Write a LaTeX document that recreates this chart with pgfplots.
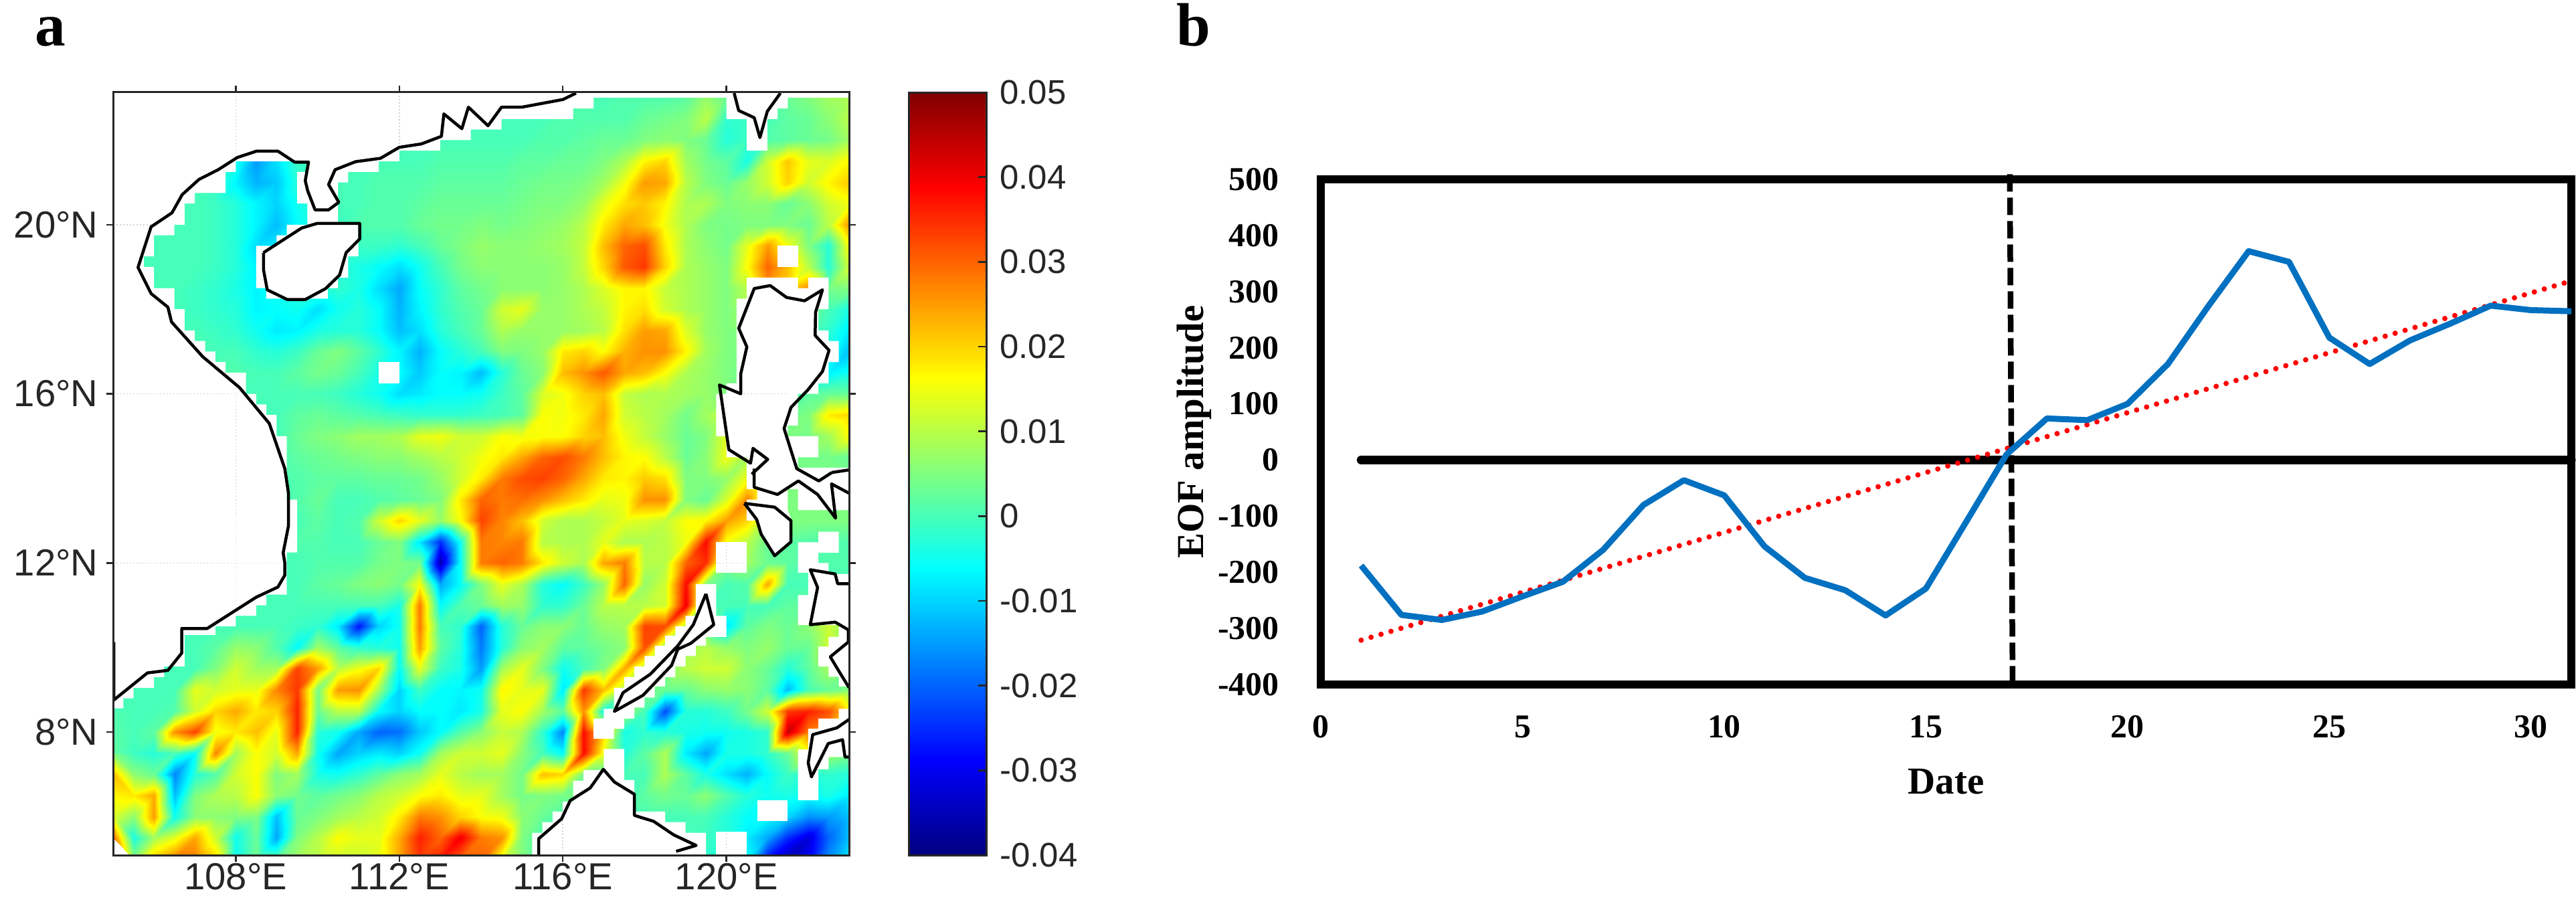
\documentclass[border=0pt]{standalone}
\usepackage{fontspec}
\usepackage{pgfplots}
\pgfplotsset{compat=1.18}
\setmainfont{Liberation Sans}
\newfontfamily\timesfont{Liberation Serif}
\definecolor{axgray}{RGB}{38,38,38}
\definecolor{lineblue}{RGB}{0,112,192}
% 1 px of the reference = 0.1 mm here
\newcommand{\mapfont}{\fontsize{16}{17}\selectfont}
\newcommand{\barfont}{\fontsize{14.5}{16}\selectfont}
\newcommand{\ticktimes}{\timesfont\bfseries\fontsize{14.2}{15}\selectfont}
\newcommand{\labeltimes}{\timesfont\bfseries\fontsize{16.2}{18}\selectfont}
\begin{document}
\begin{tikzpicture}[x=1mm,y=1mm]
\path[use as bounding box] (0,0) rectangle (385,135.6);
\node[anchor=base west,inner sep=0pt,font=\timesfont\bfseries\fontsize{26}{28}\selectfont] at (5.2,128.7) {a};
\node[anchor=base west,inner sep=0pt,font=\timesfont\bfseries\fontsize{26}{28}\selectfont] at (175.8,128.7) {b};

% panel a: field in units of 0.001, rows north to south (23N..5N), each row 105E..123E, step 0.5 deg
\begin{axis}[
  at={(16.9mm,7.8mm)}, anchor=south west, scale only axis,
  width=110mm, height=114mm,
  xmin=105, xmax=123, ymin=5.09, ymax=23.13,
  xtick={108,112,116,120}, xticklabels={108°E,112°E,116°E,120°E},
  ytick={8,12,16,20}, yticklabels={8°N,12°N,16°N,20°N},
  tick align=outside, xtick pos=both, ytick pos=both,
  xticklabel pos=bottom, yticklabel pos=left,
  major tick length=1mm,
  tick style={axgray,line width=0.25mm},
  axis line style={axgray,line width=0.3mm},
  ticklabel style={font=\mapfont,text=axgray},
  xticklabel style={yshift=1mm},
  axis on top,
  colormap/jet, point meta min=-40, point meta max=50,
]
\addplot[surf, shader=interp, mesh/cols=37, point meta=explicit]
  table[row sep=\\, header=false,
        x expr={105+0.5*mod(\coordindex,37)},
        y expr={23-0.5*floor(\coordindex/37)},
        meta index=0] {
0\\0\\0\\0\\0\\0\\0\\0\\0\\0\\0\\0\\0\\0\\0\\0\\0\\0\\0\\0\\0\\0\\1\\1\\0\\1\\1\\1\\2\\7\\3\\3\\3\\3\\5\\8\\9\\
0\\0\\0\\0\\0\\0\\0\\0\\0\\0\\0\\0\\0\\0\\0\\0\\0\\0\\0\\0\\0\\0\\1\\1\\1\\1\\3\\4\\5\\10\\-2\\-1\\0\\2\\3\\6\\10\\
0\\0\\0\\0\\0\\0\\0\\0\\0\\0\\0\\0\\0\\0\\0\\0\\0\\0\\0\\0\\0\\1\\1\\2\\3\\3\\5\\6\\5\\3\\-3\\-1\\1\\2\\3\\4\\8\\
0\\0\\0\\0\\0\\0\\-4\\-15\\-9\\-1\\0\\0\\0\\0\\0\\0\\1\\1\\1\\1\\2\\2\\3\\3\\5\\9\\17\\20\\8\\4\\2\\-4\\12\\21\\14\\13\\17\\
0\\0\\0\\0\\0\\-1\\-7\\-13\\-11\\-3\\-1\\0\\0\\1\\1\\1\\2\\2\\2\\2\\3\\4\\4\\5\\8\\15\\25\\24\\10\\5\\3\\7\\12\\20\\12\\17\\21\\
0\\0\\0\\0\\0\\-1\\-3\\-7\\-10\\-5\\-2\\0\\0\\1\\1\\2\\3\\3\\3\\3\\4\\5\\5\\7\\14\\19\\21\\17\\9\\9\\5\\6\\6\\3\\6\\12\\15\\
0\\0\\0\\0\\0\\-1\\-3\\-7\\-12\\-6\\-3\\-1\\1\\1\\1\\3\\4\\4\\5\\4\\5\\6\\7\\10\\18\\24\\22\\15\\9\\5\\4\\5\\5\\5\\3\\10\\26\\
0\\0\\0\\0\\0\\-1\\-3\\-9\\-8\\-4\\-3\\-2\\-1\\-1\\-2\\0\\3\\5\\7\\6\\6\\7\\8\\11\\22\\30\\32\\18\\9\\6\\4\\14\\25\\15\\5\\-3\\16\\
0\\0\\0\\0\\0\\-1\\-3\\-7\\-5\\-3\\-3\\-3\\-4\\-6\\-9\\-5\\0\\4\\6\\6\\6\\6\\7\\11\\20\\31\\34\\20\\9\\7\\5\\16\\30\\22\\10\\-3\\12\\
0\\0\\0\\0\\-1\\-2\\-4\\-7\\-5\\-3\\-2\\-2\\-4\\-9\\-14\\-6\\-2\\2\\4\\6\\6\\6\\7\\9\\13\\17\\17\\11\\9\\7\\5\\10\\25\\20\\27\\4\\5\\
0\\0\\0\\0\\-1\\-2\\-3\\-7\\-6\\-5\\-9\\-5\\-3\\-6\\-13\\-7\\-2\\1\\3\\12\\14\\7\\7\\9\\11\\17\\19\\12\\9\\7\\5\\8\\8\\8\\5\\0\\-4\\
0\\0\\0\\0\\0\\-1\\-2\\-5\\-8\\-7\\-4\\-3\\-3\\-6\\-12\\-9\\-3\\0\\3\\9\\7\\7\\7\\8\\10\\19\\25\\24\\13\\7\\5\\5\\4\\3\\2\\-2\\-8\\
0\\0\\0\\0\\1\\0\\0\\-2\\-3\\-1\\3\\5\\2\\-2\\-7\\-13\\-6\\-3\\0\\5\\5\\7\\18\\20\\16\\23\\26\\26\\17\\8\\5\\4\\3\\1\\0\\-4\\-12\\
0\\0\\0\\0\\0\\1\\1\\0\\0\\2\\4\\3\\0\\-4\\-6\\-11\\-6\\-7\\-12\\-3\\3\\6\\22\\26\\31\\24\\22\\16\\9\\7\\5\\3\\2\\0\\-3\\-7\\-5\\
0\\0\\0\\0\\0\\0\\0\\0\\0\\0\\0\\-1\\-3\\-5\\-9\\-8\\-6\\-6\\-5\\-1\\2\\13\\15\\20\\22\\11\\9\\9\\8\\7\\5\\3\\2\\0\\2\\3\\3\\
0\\0\\0\\0\\0\\0\\0\\0\\0\\2\\3\\2\\1\\0\\-1\\-2\\-2\\-2\\-1\\0\\2\\16\\15\\18\\24\\12\\10\\8\\4\\8\\12\\8\\5\\3\\5\\18\\20\\
0\\0\\0\\0\\0\\0\\0\\0\\0\\3\\5\\6\\8\\8\\9\\14\\15\\12\\12\\16\\15\\16\\16\\20\\22\\15\\11\\7\\3\\5\\14\\10\\8\\5\\4\\8\\16\\
0\\0\\0\\0\\0\\0\\0\\0\\0\\2\\3\\4\\5\\6\\6\\8\\10\\12\\15\\18\\24\\30\\32\\28\\22\\17\\16\\10\\3\\6\\15\\8\\5\\4\\4\\4\\3\\
0\\0\\0\\0\\0\\0\\0\\0\\0\\1\\2\\2\\2\\3\\3\\4\\7\\12\\18\\28\\32\\33\\30\\24\\18\\17\\21\\19\\5\\5\\7\\15\\8\\5\\5\\5\\5\\
0\\0\\0\\0\\0\\0\\0\\0\\0\\1\\3\\0\\0\\1\\2\\3\\5\\18\\30\\28\\29\\26\\22\\18\\14\\15\\26\\26\\5\\3\\13\\27\\10\\5\\5\\5\\5\\
0\\0\\0\\0\\0\\0\\0\\0\\0\\0\\2\\0\\1\\12\\20\\14\\7\\16\\33\\27\\22\\12\\9\\9\\11\\14\\13\\11\\16\\17\\25\\20\\8\\5\\5\\5\\5\\
0\\0\\0\\0\\0\\0\\0\\0\\0\\1\\1\\0\\0\\3\\5\\-8\\-25\\-5\\28\\27\\28\\10\\9\\9\\14\\9\\9\\10\\15\\38\\15\\10\\3\\2\\1\\1\\1\\
0\\0\\0\\0\\0\\0\\0\\0\\0\\0\\1\\1\\1\\4\\5\\4\\-36\\-6\\28\\30\\28\\18\\12\\9\\24\\28\\10\\10\\30\\35\\5\\8\\3\\2\\1\\1\\1\\
0\\0\\0\\0\\0\\0\\0\\0\\0\\0\\2\\3\\5\\6\\4\\16\\-14\\-6\\5\\14\\9\\-3\\-6\\-1\\7\\30\\7\\12\\38\\5\\0\\1\\24\\0\\0\\0\\0\\
0\\0\\0\\0\\0\\0\\0\\0\\0\\0\\0\\0\\0\\0\\-4\\28\\-6\\1\\3\\8\\7\\-2\\-2\\3\\10\\10\\10\\12\\40\\0\\0\\0\\0\\2\\3\\3\\3\\
0\\0\\0\\0\\0\\0\\0\\0\\0\\-1\\-2\\-8\\-27\\-10\\-5\\28\\0\\-2\\-20\\-3\\3\\6\\6\\3\\7\\8\\33\\32\\8\\3\\-8\\2\\5\\3\\6\\12\\5\\
0\\0\\0\\0\\0\\2\\7\\6\\1\\-6\\8\\2\\-2\\-3\\-5\\25\\2\\-3\\-18\\-3\\6\\8\\2\\2\\4\\6\\32\\5\\8\\10\\7\\5\\7\\3\\3\\12\\5\\
0\\0\\0\\0\\0\\5\\12\\8\\8\\33\\25\\10\\15\\20\\-6\\14\\-1\\-4\\-15\\8\\14\\5\\-5\\0\\5\\24\\8\\5\\10\\12\\12\\6\\3\\-3\\2\\8\\5\\
0\\0\\0\\0\\14\\12\\14\\14\\27\\34\\4\\25\\26\\8\\-10\\-1\\-6\\-7\\-5\\17\\14\\14\\-8\\34\\22\\8\\5\\3\\3\\6\\7\\6\\2\\-12\\0\\3\\5\\
0\\0\\0\\1\\12\\20\\24\\18\\20\\36\\3\\10\\10\\-6\\-10\\-6\\-6\\-8\\-4\\14\\16\\8\\2\\26\\-5\\8\\0\\-22\\-3\\-3\\-1\\4\\12\\34\\36\\32\\18\\
1\\0\\2\\26\\33\\15\\18\\22\\14\\36\\-3\\-5\\-14\\-20\\-19\\-11\\-6\\1\\6\\11\\9\\-2\\-17\\38\\20\\-4\\-2\\-3\\-4\\-5\\-5\\-4\\-2\\44\\28\\25\\18\\
2\\-1\\-3\\0\\-6\\27\\8\\16\\12\\24\\-5\\-14\\-10\\-8\\-10\\-5\\8\\12\\12\\14\\6\\0\\-6\\38\\15\\-3\\2\\9\\-8\\-14\\-4\\-4\\-2\\3\\15\\8\\5\\
5\\6\\3\\-17\\-3\\1\\12\\16\\5\\8\\-4\\-5\\-2\\2\\6\\8\\14\\10\\8\\8\\4\\22\\20\\4\\0\\0\\0\\9\\2\\-4\\-9\\-13\\-6\\-1\\-3\\-2\\-3\\
22\\18\\24\\-12\\5\\9\\10\\16\\6\\4\\2\\4\\6\\10\\12\\16\\18\\14\\14\\8\\4\\5\\4\\5\\0\\0\\2\\4\\3\\6\\1\\-3\\-5\\-4\\-6\\-4\\-8\\
12\\6\\25\\-5\\6\\6\\5\\5\\-12\\3\\5\\8\\10\\12\\18\\28\\26\\20\\16\\15\\6\\3\\0\\0\\0\\0\\0\\0\\0\\0\\-3\\-6\\-6\\-10\\-16\\-15\\-12\\
14\\-4\\8\\14\\24\\12\\-5\\3\\-14\\5\\10\\16\\14\\14\\24\\36\\30\\40\\28\\26\\5\\0\\0\\0\\0\\0\\0\\0\\0\\-1\\-3\\-8\\-14\\-25\\-32\\-20\\-12\\
30\\6\\22\\28\\28\\20\\-5\\4\\2\\8\\10\\12\\12\\14\\24\\34\\36\\30\\30\\14\\5\\0\\0\\0\\0\\0\\0\\0\\0\\-2\\-3\\-6\\-28\\-36\\-30\\-16\\-8\\
};
% land and missing cells
\addplot[fill=white,draw=none] coordinates {(105,8.56)(105.25,8.56)(105.25,8.8)(105.5,8.8)(105.5,9.05)(106,9.05)(106,9.3)(106.25,9.3)(106.25,9.55)(106.75,9.55)(106.75,10.3)(107.5,10.3)(107.5,10.5)(108,10.5)(108,10.75)(108.5,10.75)(108.5,11)(108.75,11)(108.75,11.25)(109.25,11.25)(109.25,12.25)(109.5,12.25)(109.5,13.5)(109.25,13.5)(109.25,15)(109,15)(109,15.5)(108.75,15.5)(108.75,15.75)(108.5,15.75)(108.5,16)(108.25,16)(108.25,16.5)(107.75,16.5)(107.75,16.75)(107.5,16.75)(107.5,17)(107.25,17)(107.25,17.25)(107,17.25)(107,17.5)(106.75,17.5)(106.75,18)(106.5,18)(106.5,18.5)(106,18.5)(106,19)(105.75,19)(105.75,19.25)(106,19.25)(106,19.75)(106.5,19.75)(106.5,20)(106.75,20)(106.75,20.5)(107,20.5)(107,20.75)(107.75,20.75)(107.75,21.25)(108,21.25)(108,21.5)(109.75,21.5)(109.75,21.25)(109.5,21.25)(109.5,20.5)(109.75,20.5)(109.75,20)(109.25,20)(109.25,19.75)(109,19.75)(109,19.5)(108.5,19.5)(108.5,18.5)(108.75,18.5)(108.75,18.25)(110.25,18.25)(110.25,18.5)(110.5,18.5)(110.5,18.75)(110.75,18.75)(110.75,19.25)(111,19.25)(111,20)(110.5,20)(110.5,21)(110.75,21)(110.75,21.25)(111.5,21.25)(111.5,21.5)(112,21.5)(112,21.75)(113,21.75)(113,22)(113.75,22)(113.75,22.25)(114.5,22.25)(114.5,22.5)(116.25,22.5)(116.25,22.75)(116.75,22.75)(116.75,23.2)(105,23.2)} -- cycle;
\addplot[fill=white,draw=none] coordinates {(111.5,16.25)(112,16.25)(112,16.75)(111.5,16.75)} -- cycle;
\addplot[fill=white,draw=none] coordinates {(120,23.2)(121.5,23.2)(121.5,22.75)(121.25,22.75)(121.25,22.5)(121,22.5)(121,21.75)(120.5,21.75)(120.5,22.5)(120,22.5)} -- cycle;
\addplot[fill=white,draw=none] coordinates {(121.25,19)(121.75,19)(121.75,19.5)(121.25,19.5)} -- cycle;
\addplot[fill=white,draw=none] coordinates {(120.5,14.5)(120,14.5)(120,15)(119.75,15)(119.75,16)(120,16)(120,16.25)(120.25,16.25)(120.25,18.25)(120.5,18.25)(120.5,18.75)(121.75,18.75)(121.75,18.5)(122,18.5)(122,18.75)(122.5,18.75)(122.5,18)(122.25,18)(122.25,17.5)(122.5,17.5)(122.5,17.25)(122.75,17.25)(122.75,16.75)(122.5,16.75)(122.5,16.25)(122.25,16.25)(122.25,16)(121.75,16)(121.75,15.25)(121.5,15.25)(121.5,15)(122.25,15)(122.25,14.5)(121.75,14.5)(121.75,14.25)(123.1,14.25)(123.1,13.25)(121.75,13.25)(121.75,13.75)(121.5,13.75)(121.5,13.25)(121.6,13)(121.6,12.5)(121.2,12.2)(120.95,12.5)(120.75,13)(120.5,13)(120.5,13.5)(120.75,13.5)(120.75,13.75)(120.5,13.75)} -- cycle;
\addplot[fill=white,draw=none] coordinates {(119.75,11.77)(120.5,11.77)(120.5,12.49)(119.75,12.49)} -- cycle;
\addplot[fill=white,draw=none] coordinates {(119.25,11.5)(119.75,11.5)(119.75,10.75)(120,10.75)(120,10.25)(119.5,10.25)(119.5,10.04)(119.25,10.04)(119.25,9.8)(119,9.8)(119,9.55)(118.75,9.55)(118.75,9.3)(118.5,9.3)(118.5,9.08)(118.25,9.08)(118.25,8.82)(118,8.82)(118,8.58)(117.75,8.58)(117.75,8.32)(117.5,8.32)(117.5,8.08)(117.25,8.08)(117.25,7.84)(116.75,7.84)(116.75,8.32)(117,8.32)(117,8.55)(117.25,8.55)(117.25,9.05)(117.5,9.05)(117.5,9.3)(117.75,9.3)(117.75,9.55)(118,9.55)(118,9.8)(118.25,9.8)(118.25,10.04)(118.5,10.04)(118.5,10.28)(118.75,10.28)(118.75,10.5)(119,10.5)(119,10.75)(119.25,10.75)} -- cycle;
\addplot[fill=white,draw=none] coordinates {(115.25,5)(115.25,5.62)(115.5,5.62)(115.5,5.87)(115.75,5.87)(115.75,6.12)(116,6.12)(116,6.36)(116.25,6.36)(116.25,6.85)(116.5,6.85)(116.5,7.1)(117,7.1)(117,7.6)(117.5,7.6)(117.5,6.87)(117.75,6.87)(117.75,6.12)(118.5,6.12)(118.5,5.87)(119,5.87)(119,5.62)(119.5,5.62)(119.5,5)} -- cycle;
\addplot[fill=white,draw=none] coordinates {(119.75,5)(120.5,5)(120.5,5.64)(119.75,5.64)} -- cycle;
\addplot[fill=white,draw=none] coordinates {(120.75,5.89)(121.5,5.89)(121.5,6.39)(120.75,6.39)} -- cycle;
\addplot[fill=white,draw=none] coordinates {(121.75,7.59)(122,7.59)(122,8.08)(122.25,8.08)(122.25,8.32)(122.75,8.32)(122.75,8.55)(123.05,8.55)(123.05,7.41)(122.5,7.41)(122.5,7.12)(122.25,7.12)(122.25,6.39)(121.75,6.39)} -- cycle;
\addplot[fill=white,draw=none] coordinates {(121.75,12.49)(122.25,12.49)(122.25,12.74)(122.75,12.74)(122.75,12.24)(122.25,12.24)(122.25,12)(122.5,12)(122.5,11.74)(123.05,11.74)(123.05,9.08)(122.75,9.08)(122.75,9.31)(122.5,9.31)(122.5,9.55)(122.25,9.55)(122.25,10.02)(122.5,10.02)(122.5,10.25)(122.75,10.25)(122.75,10.53)(121.75,10.53)(121.75,11.24)(122,11.24)(122,11.77)(121.75,11.77)} -- cycle;
% faint graticule, seen only over land
\addplot[gray!35,densely dotted,line width=0.15mm,forget plot,unbounded coords=jump] coordinates {(105,20)(105.93,20)(nan,nan)(105,16)(108.09,16)(nan,nan)(105,12)(109.2,12)(nan,nan)(108,23.13)(108,21.6)(nan,nan)(108,16.2)(108,10.75)(nan,nan)(112,23.13)(112,21.85)(nan,nan)(116,5.09)(116,6.3)(nan,nan)(120,16)(120,14.7)(nan,nan)(120.35,16)(121.5,16)(nan,nan)(120,12.49)(120,11.77)(nan,nan)(119.75,12)(120.5,12)(nan,nan)(120,5.09)(120,5.64)};
% coastlines
\addplot[black,line width=0.45mm,line join=round] coordinates {(105.02,10.13)(105.02,8.76)(105.84,9.4)(106.34,9.46)(106.68,9.87)(106.68,10.45)(107.3,10.45)(108.5,11.19)(109.03,11.43)(109.2,11.71)(109.2,12)(109.16,12.24)(109.29,12.88)(109.29,13.65)(109.2,14.23)(108.82,15.3)(108.09,16.15)(107.19,16.88)(106.43,17.7)(106.34,18.05)(105.93,18.37)(105.61,18.99)(105.93,19.95)(106.44,20.28)(106.69,20.71)(107.1,21.07)(107.57,21.3)(108.04,21.59)(108.51,21.74)(109.03,21.74)(109.44,21.48)(109.78,21.48)(109.7,21.04)(109.76,20.8)(109.94,20.35)(110.27,20.35)(110.52,20.53)(110.27,20.95)(110.43,21.3)(110.93,21.49)(111.54,21.57)(112,21.83)(112.54,21.91)(113.03,22.09)(113.09,22.62)(113.53,22.27)(113.69,22.78)(114.17,22.34)(114.5,22.78)(115,22.78)(116,22.96)(116.32,23.11)};
\addplot[black,line width=0.45mm,line join=round] coordinates {(108.68,19.34)(109.61,19.92)(109.99,20.03)(111.03,20.03)(111.03,19.66)(110.7,19.34)(110.54,18.81)(110.2,18.49)(109.7,18.23)(109.26,18.23)(108.77,18.46)(108.68,18.93)(108.68,19.34)};
\addplot[black,line width=0.45mm,line join=round] coordinates {(120.19,23.11)(120.3,22.7)(120.68,22.53)(120.82,22.06)(121,22.68)(121.32,23.11)};
\addplot[black,line width=0.45mm,line join=round] coordinates {(122.58,14.14)(122.26,13.94)(121.72,14.23)(121.41,15.18)(121.58,15.68)(121.99,16.09)(122.35,16.53)(122.51,17.03)(122.17,17.38)(122.18,17.93)(122.35,18.46)(121.91,18.2)(121.47,18.28)(121.07,18.56)(120.68,18.49)(120.3,17.55)(120.5,17.11)(120.35,16.47)(120.35,16)(119.83,16.21)(120.06,14.68)(120.59,14.36)(120.65,14.71)(121.01,14.45)(120.62,14.1)};
\addplot[black,line width=0.45mm,line join=round] coordinates {(122.58,14.14)(123,14.2)};
\addplot[black,line width=0.45mm,line join=round] coordinates {(120.68,14.23)(120.68,13.79)(121.25,13.62)(121.76,13.94)(122.23,13.62)(122.67,13.06)(122.57,13.87)(123,13.65)};
\addplot[black,line width=0.45mm,line join=round] coordinates {(120.44,13.41)(121.18,13.32)(121.58,13)(121.58,12.5)(121.18,12.17)(120.85,12.68)(120.74,13.03)(120.44,13.41)};
\addplot[black,line width=0.45mm,line join=round] coordinates {(119.5,11.27)(119.69,10.54)(119.13,10.1)(118.81,9.96)(118.66,9.58)(117.96,8.87)(117.26,8.49)(117.47,8.93)(118.14,9.37)(118.81,10.04)(119.19,10.54)(119.5,11.27)};
\addplot[black,line width=0.45mm,line join=round] coordinates {(115.41,5)(115.41,5.48)(115.97,5.95)(116.18,6.38)(116.67,6.68)(116.99,7.12)(117.26,6.82)(117.75,6.53)(117.75,6.03)(118.22,5.89)(118.71,5.57)(119.26,5.32)(118.77,5.18)};
\addplot[black,line width=0.45mm,line join=round] coordinates {(123,11.51)(122.72,11.51)(122.66,11.74)(122.05,11.84)(122.23,11.42)(122.05,10.54)(122.66,10.6)(122.98,10.42)(122.98,10.13)(122.54,9.78)(122.72,9.49)(123,9.05)};
\addplot[black,line width=0.45mm,line join=round] coordinates {(123,8.3)(122.7,8.1)(122.11,7.94)(122,7.27)(122.08,6.94)(122.49,7.73)(122.84,7.82)(122.9,7.41)(123,7.41)};
\end{axis}

% colour scale of panel a, its own small axis
\begin{axis}[
  at={(135.8mm,7.8mm)}, anchor=south west, scale only axis,
  width=11.6mm, height=114mm,
  xmin=0, xmax=1, ymin=-40, ymax=50,
  xtick=\empty,
  ytick={-40,-30,-20,-10,0,10,20,30,40,50},
  yticklabels={-0.04,-0.03,-0.02,-0.01,0,0.01,0.02,0.03,0.04,0.05},
  ytick pos=right, yticklabel pos=right, tick align=inside,
  major tick length=1.2mm,
  tick style={axgray,line width=0.25mm},
  axis line style={axgray,line width=0.3mm},
  ticklabel style={font=\barfont,text=axgray},
  yticklabel style={xshift=0.8mm},
  axis on top,
  colormap/jet, point meta min=-40, point meta max=50,
]
\addplot[surf, shader=interp, mesh/cols=2, point meta=y] coordinates {(0,-40)(1,-40)(0,50)(1,50)};
\end{axis}

% panel b
\begin{axis}[
  at={(197.4mm,33.3mm)}, anchor=south west, scale only axis,
  width=186.9mm, height=75.5mm,
  xmin=0, xmax=31, ymin=-400, ymax=500,
  xtick={0,5,...,30}, ytick={-400,-300,...,500},
  major tick length=0pt,
  /pgf/number format/assume math mode=true,
  ticklabel style={font=\ticktimes},
  xticklabel style={yshift=-3.4mm},
  yticklabel style={xshift=-5mm},
  axis line style={black,line width=1.2mm},
  clip=false,
  xlabel={Date}, ylabel={EOF amplitude},
  every axis x label/.style={at={(axis description cs:0.5,-0.192)},anchor=center,font=\labeltimes},
  every axis y label/.style={at={(axis description cs:-0.101,0.5)},anchor=center,rotate=90,font=\labeltimes},
]
\addplot[black,line width=1.3mm,line cap=round] coordinates {(1,0)(31,0)};
\addplot[black,line width=0.85mm,dash pattern=on 2.6mm off 0.9mm] coordinates {(17.08,509)(17.15,-408)};
\addplot[red,line width=0.8mm,line cap=round,dash pattern=on 0pt off 1.55mm] coordinates {(1,-321)(31,319)};
\addplot[lineblue,line width=0.9mm,line join=round] coordinates {
(1,-188)(2,-276)(3,-285)(4,-270)(5,-243)(6,-217)(7,-160)(8,-80)(9,-36)(10,-63)
(11,-154)(12,-210)(13,-232)(14,-277)(15,-229)(16,-110)(17,10)(18,74)(19,71)(20,100)
(21,171)(22,274)(23,372)(24,353)(25,218)(26,171)(27,213)(28,243)(29,275)(30,267)(31,265)};
\end{axis}
\end{tikzpicture}
\end{document}
